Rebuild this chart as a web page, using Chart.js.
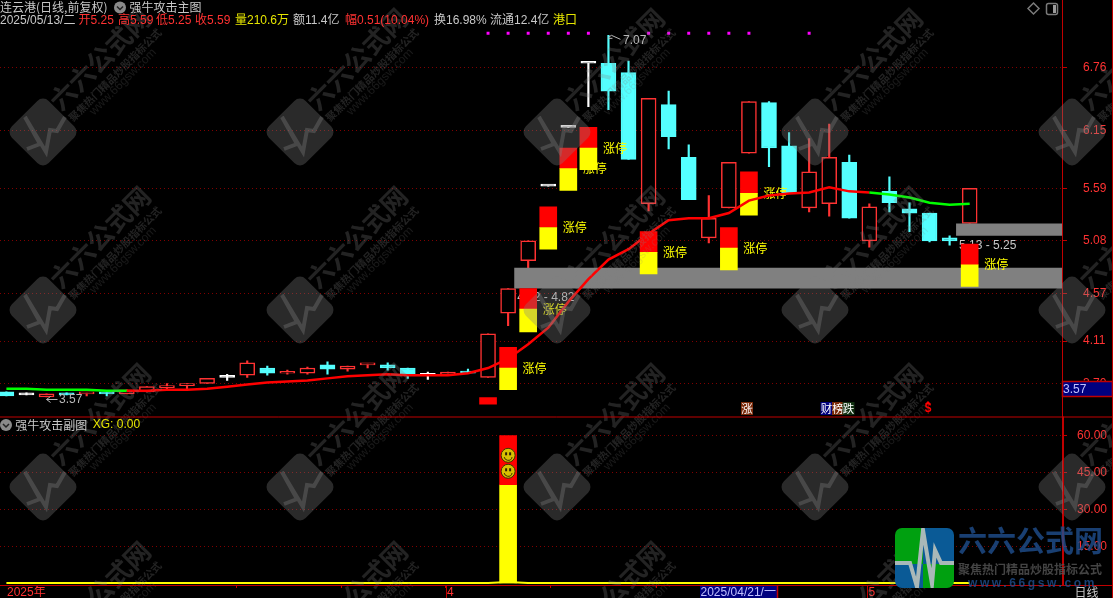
<!DOCTYPE html>
<html lang="zh">
<head>
<meta charset="UTF-8">
<title>强牛攻击主图</title>
<style>
html,body{margin:0;padding:0;background:#000;overflow:hidden}
canvas{display:block}
</style>
</head>
<body>
<canvas id="kline" width="1113" height="598"></canvas>
<script src="https://cdn.jsdelivr.net/npm/chart.js"></script>
<script>
// daily candles
const opens  = [3.62,3.59,3.57,3.61,3.60,3.61,3.60,3.62,3.66,3.68,3.70,3.76,3.78,3.85,3.80,3.80,3.88,3.84,3.88,3.88,3.85,3.78,3.79,3.82,3.76,4.38,4.89,5.61,6.18,6.80,6.80,6.71,5.44,6.40,5.89,5.11,5.40,5.93,6.42,6.00,5.40,5.44,5.84,5.08,5.56,5.39,5.35,5.11,5.25];
const closes = [3.58,3.59,3.60,3.59,3.61,3.60,3.64,3.67,3.68,3.70,3.75,3.76,3.90,3.80,3.81,3.85,3.84,3.87,3.89,3.85,3.79,3.78,3.81,3.80,4.18,4.62,5.08,5.61,6.18,6.80,6.53,5.87,6.46,6.09,5.48,5.30,5.84,6.43,5.98,5.54,5.75,5.89,5.30,5.41,5.45,5.35,5.08,5.08,5.59];
const highs  = [3.62,3.61,3.60,3.61,3.61,3.61,3.64,3.67,3.70,3.70,3.75,3.79,3.92,3.87,3.83,3.86,3.91,3.87,3.89,3.90,3.85,3.81,3.81,3.84,4.18,4.62,5.08,5.61,6.18,6.80,7.07,6.82,6.46,6.53,6.01,5.52,5.84,6.43,6.43,6.13,6.07,6.21,5.91,5.44,5.70,5.45,5.35,5.13,5.59];
const lows   = [3.58,3.59,3.57,3.59,3.58,3.58,3.60,3.62,3.65,3.65,3.70,3.73,3.76,3.78,3.79,3.79,3.79,3.82,3.85,3.83,3.75,3.74,3.79,3.80,3.76,4.26,4.82,5.61,6.18,6.38,6.35,5.87,5.37,5.97,5.48,5.06,5.40,5.93,5.80,5.54,5.36,5.32,5.30,5.02,5.36,5.17,5.07,5.04,5.25];
const maLine = [3.65,3.65,3.64,3.64,3.64,3.63,3.63,3.63,3.64,3.64,3.65,3.67,3.69,3.71,3.72,3.73,3.75,3.77,3.78,3.79,3.78,3.78,3.78,3.80,3.85,3.94,4.08,4.24,4.49,4.71,4.90,5.00,5.15,5.28,5.30,5.30,5.35,5.47,5.52,5.54,5.55,5.60,5.56,5.55,5.53,5.50,5.45,5.43,5.44];
const maGreenFrom = [0,1,2,3,4,5,43,44,45,46,47];

// 涨停 boxes: candle index, top of red, red/yellow split, bottom of yellow
const limitIdx    = [25,26,27,28,29,32,36,37,48];
const limitTop    = [4.05,4.62,5.41,5.98,6.18,5.17,5.21,5.75,5.05];
const limitSplit  = [3.85,4.42,5.21,5.78,5.98,4.97,5.01,5.54,4.85];
const limitBottom = [3.64,4.20,5.00,5.57,5.77,4.76,4.80,5.33,4.64];
const redMarkIdx = [24];
const redMarkRange = [[3.50,3.565]];

const dotIdx = [24,25,26,27,28,29,32,33,34,35,36,37,40];
const dotPrice = 7.09;

// grey support bands
const zoneStarts = [25.3,47.32];
const zoneTops = [4.82,5.25];
const zoneBottoms = [4.62,5.13];
const zoneLabels = ['4.62 - 4.82','5.13 - 5.25'];

// lower pane
const subIdx = [25];
const subYellow = [40];
const subRed = [60];
const smileys = [52,45.5];
const xgLine = [0,0,0,0,0,0,0,0,0,0,0,0,0,0,0,0,0,0,0,0,0,0,0,0,0,0.4,0,0,0,0,0,0,0,0,0,0,0,0,0,0,0,0,0,0,0,0,0,0,0];

// axes
const priceTicks = [6.76,6.15,5.59,5.08,4.57,4.11,3.70];
const subTicks = [60,45,30,15];
const xTickPos = [0.77,11.47,16.7,21.9,27.1,32.4,37.6,42.9];
const xTickLabels = ['2025年','','','4','','','','5'];

// header
const headerTexts = ['2025/05/13/二','开5.25','高5.59','低5.25','收5.59','量210.6万','额11.4亿','幅0.51(10.04%)','换16.98%','流通12.4亿','港口'];
const headerX = [0,78.5,118,156,195,235,293,345,434,490,553];
const headerColors = ['#c8c8c8','#ff3232','#ff3232','#ff3232','#ff3232','#e6e600','#c8c8c8','#ff3232','#c8c8c8','#c8c8c8','#e6e600'];

// event tags above the lower pane
const tagTexts = ['涨','财','榜','跌'];
const tagX = [747,826.5,838,848.5];
const tagBg = ['#7a2a0a','#00007f','#7a2a0a','#103010'];

const RED = '#ff3232', CYAN = '#54ffff', AXIS = '#c00000', GRID = '#800000';
const LATIN = '"Liberation Sans","Noto Sans CJK SC",sans-serif';
const CJK = '"Noto Sans CJK SC","Liberation Sans",sans-serif';

function candleColor(i) {
  if (closes[i] > opens[i]) return RED;
  if (closes[i] < opens[i]) return CYAN;
  return '#ffffff';
}

function put(ctx, text, x, y, color, font, align) {
  ctx.fillStyle = color;
  ctx.font = font;
  ctx.textAlign = align || 'left';
  ctx.textBaseline = 'middle';
  ctx.fillText(text, x, y);
}

function chevronIcon(ctx, x, y) {
  ctx.fillStyle = '#8a8a8a';
  ctx.beginPath();
  ctx.arc(x, y, 6, 0, Math.PI * 2);
  ctx.fill();
  ctx.strokeStyle = '#222';
  ctx.lineWidth = 1.5;
  ctx.beginPath();
  ctx.moveTo(x - 3, y - 1);
  ctx.lineTo(x, y + 2);
  ctx.lineTo(x + 3, y - 1);
  ctx.stroke();
}

// tiled site watermark, painted over everything
function drawWatermark(ctx) {
  const cols = [43,300,557,815,1072];
  const rows = [-46,132,310,487,665];
  const ekg = [[-16,17],[-3,12],[-18,-15],[3,20],[7,-2],[14,-1],[22,-15]];
  rows.forEach(function (wy) {
    cols.forEach(function (wx) {
      ctx.save();
      ctx.translate(wx, wy);
      ctx.save();
      ctx.rotate(Math.PI / 4);
      ctx.fillStyle = 'rgba(128,128,128,0.33)';
      ctx.beginPath();
      ctx.roundRect(-26, -26, 52, 52, 8);
      ctx.fill();
      ctx.restore();
      ctx.strokeStyle = 'rgba(128,128,128,0.35)';
      ctx.lineWidth = 4;
      ctx.beginPath();
      ekg.forEach(function (p, n) { n ? ctx.lineTo(p[0], p[1]) : ctx.moveTo(p[0], p[1]); });
      ctx.stroke();
      ctx.restore();

      const wm = [
        ['六六公式网', 57, -73, 'bold 26px ' + CJK, 0.27],
        ['聚焦热门精品炒股指标公式', 72, -57, 'bold 10.5px ' + CJK, 0.27],
        ['www.66gsw.com', 80, -50, '12px ' + LATIN, 0.2]
      ];
      wm.forEach(function (w) {
        ctx.save();
        ctx.translate(wx + w[1], wy + w[2]);
        ctx.rotate(-Math.PI / 4);
        put(ctx, w[0], 0, 0, 'rgba(128,128,128,' + w[4] + ')', w[3], 'center');
        ctx.restore();
      });
    });
  });
}

function drawLogo(ctx) {
  ctx.save();
  ctx.beginPath();
  ctx.roundRect(895, 528, 59, 60, 7);
  ctx.clip();
  ctx.fillStyle = '#00a010'; ctx.fillRect(895, 528, 28, 36);
  ctx.fillStyle = '#0a5a96'; ctx.fillRect(895, 564, 28, 24);
  ctx.fillStyle = '#0a5a96'; ctx.fillRect(923, 528, 31, 36);
  ctx.fillStyle = '#00a010'; ctx.fillRect(923, 564, 31, 24);
  ctx.strokeStyle = '#a9b8b8';
  ctx.lineWidth = 4;
  ctx.beginPath();
  ctx.moveTo(895, 563);
  ctx.lineTo(910, 563);
  ctx.lineTo(917, 587);
  ctx.lineTo(923, 530);
  ctx.lineTo(932, 584);
  ctx.lineTo(935, 550);
  ctx.lineTo(941, 563);
  ctx.lineTo(955, 563);
  ctx.stroke();
  ctx.restore();

  ctx.save();
  ctx.globalAlpha = 0.8;
  put(ctx, '六六公式网', 958, 541, '#1f4f8f', 'bold 29px ' + CJK);
  put(ctx, '聚焦热门精品炒股指标公式', 958, 569, '#555555', 'bold 12px ' + CJK);
  ctx.letterSpacing = '2.6px';
  put(ctx, 'www.66gsw.com', 968, 584, '#1f4f8f', 'bold 12px ' + LATIN);
  ctx.letterSpacing = '0px';
  ctx.restore();
}

const paneText = {
  id: 'paneText',
  // 涨停 text and band labels sit over the candles but under the boxes
  beforeDatasetDraw(chart, args) {
    if (args.meta.label !== 'limitRed') return;
    const ctx = chart.ctx, x = chart.scales.x, y = chart.scales.y;
    ctx.save();
    zoneLabels.forEach(function (t, n) {
      put(ctx, t, x.getPixelForValue(zoneStarts[n]) + 3, y.getPixelForValue(zoneBottoms[n]) + 9.5, '#c8c8c8', '12px ' + LATIN);
    });
    limitIdx.forEach(function (i, n) {
      put(ctx, '涨停', x.getPixelForValue(i) + 14.5, y.getPixelForValue(limitSplit[n]), '#ffff00', '12px ' + CJK);
    });
    ctx.restore();
  },
  afterDraw(chart) {
    const ctx = chart.ctx, x = chart.scales.x, y = chart.scales.y, y2 = chart.scales.y2;
    const area = chart.chartArea;
    ctx.save();

    drawWatermark(ctx);

    // frame lines
    ctx.strokeStyle = AXIS;
    ctx.lineWidth = 1;
    const frame = [
      [0, y.bottom + 0.5, 1113, y.bottom + 0.5],
      [0, area.bottom + 0.5, 1113, area.bottom + 0.5],
      [area.right + 1.5, y2.top, area.right + 1.5, area.bottom],
      [1112.5, 0, 1112.5, 598]
    ];
    frame.forEach(function (l) {
      ctx.beginPath();
      ctx.moveTo(l[0], l[1]);
      ctx.lineTo(l[2], l[3]);
      ctx.stroke();
    });
    // month ticks run down to the window edge
    [21.9, 42.9].forEach(function (v) {
      const px = Math.round(x.getPixelForValue(v)) + 0.5;
      ctx.beginPath();
      ctx.moveTo(px, area.bottom);
      ctx.lineTo(px, 598);
      ctx.stroke();
    });

    // smileys on the lower bar
    smileys.forEach(function (v) {
      const sx = x.getPixelForValue(subIdx[0]), sy = y2.getPixelForValue(v);
      ctx.fillStyle = '#d8c000';
      ctx.strokeStyle = '#3a3000';
      ctx.lineWidth = 1;
      ctx.beginPath(); ctx.arc(sx, sy, 7, 0, Math.PI * 2); ctx.fill(); ctx.stroke();
      ctx.fillStyle = '#302000';
      ctx.fillRect(sx - 3, sy - 3, 2, 3);
      ctx.fillRect(sx + 1, sy - 3, 2, 3);
      ctx.beginPath(); ctx.arc(sx, sy + 1, 4, 0.2, Math.PI - 0.2); ctx.stroke();
    });

    // flag at the high and arrow at the low
    const hx = x.getPixelForValue(30), hy = y.getPixelForValue(highs[30]);
    ctx.strokeStyle = '#b8b8b8';
    ctx.beginPath();
    ctx.moveTo(hx, hy + 2);
    ctx.lineTo(hx + 3, hy);
    ctx.lineTo(hx + 12, hy + 4);
    ctx.moveTo(hx, hy + 3);
    ctx.lineTo(hx + 4, hy + 3);
    ctx.stroke();
    put(ctx, '7.07', hx + 14.5, hy + 5.5, '#b8b8b8', '12px ' + LATIN);
    const lx = x.getPixelForValue(2), ly = y.getPixelForValue(lows[2]) + 2.5;
    ctx.beginPath();
    ctx.moveTo(lx + 4, ly - 3);
    ctx.lineTo(lx, ly);
    ctx.lineTo(lx + 4, ly + 3);
    ctx.moveTo(lx, ly);
    ctx.lineTo(lx + 11, ly);
    ctx.stroke();
    put(ctx, '3.57', lx + 12.5, ly, '#b8b8b8', '12px ' + LATIN);

    // event tags
    tagTexts.forEach(function (t, n) {
      ctx.fillStyle = tagBg[n];
      ctx.fillRect(tagX[n] - 6, 402, 12, 13);
      put(ctx, t, tagX[n], 408.5, '#ffffff', '11.5px ' + CJK, 'center');
    });
    put(ctx, '$', 928, 409, '#ff0000', 'bold 12px ' + LATIN, 'center');
    ctx.fillStyle = '#ff0000';
    ctx.beginPath();
    ctx.moveTo(928, 401);
    ctx.lineTo(931, 404);
    ctx.lineTo(925, 404);
    ctx.fill();

    // header rows
    put(ctx, '连云港(日线,前复权)', 0, 7, '#c8c8c8', '12px ' + CJK);
    chevronIcon(ctx, 120, 7.5);
    put(ctx, '强牛攻击主图', 129.5, 7, '#c8c8c8', '12px ' + CJK);
    headerTexts.forEach(function (t, n) {
      put(ctx, t, headerX[n], 21, headerColors[n], '12px ' + LATIN);
    });
    chevronIcon(ctx, 6, 425);
    put(ctx, '强牛攻击副图', 15.3, 425, '#c8c8c8', '12px ' + CJK);
    put(ctx, 'XG: 0.00', 92.7, 425, '#e6e600', '12px ' + LATIN);

    // window buttons
    ctx.strokeStyle = '#7a7a7a';
    ctx.beginPath();
    ctx.moveTo(1033.5, 3);
    ctx.lineTo(1039, 8.5);
    ctx.lineTo(1033.5, 14);
    ctx.lineTo(1028, 8.5);
    ctx.closePath();
    ctx.stroke();
    ctx.beginPath();
    ctx.roundRect(1046.5, 3.5, 11, 11, 2);
    ctx.stroke();
    ctx.fillStyle = '#9a9a9a';
    ctx.fillRect(1053, 5, 3, 8);

    // crosshair price box
    ctx.fillStyle = '#00007f';
    ctx.fillRect(area.right, 382, 51, 15);
    ctx.strokeStyle = AXIS;
    ctx.strokeRect(area.right + 0.5, 381.5, 50, 15);
    put(ctx, '3.57', 1063, 389.5, '#c0c0ff', '12px ' + LATIN);

    // date box and period
    ctx.fillStyle = '#00007f';
    ctx.fillRect(700, 586, 77, 12);
    ctx.strokeRect(777.5, 585.5, 0, 13);
    put(ctx, '2025/04/21/一', 700.5, 592.5, '#c0c0ff', '12px ' + LATIN);
    put(ctx, '日线', 1074.5, 592, '#c8c8c8', '12px ' + CJK);

    drawLogo(ctx);
    ctx.restore();
  }
};

const xs = opens.map(function (_, i) { return i; });

function noPadding(s) {
  s.paddingTop = 0;
  s.paddingBottom = 0;
  s.paddingLeft = 0;
  s.paddingRight = 0;
}

new Chart(document.getElementById('kline').getContext('2d'), {
  type: 'bar',
  plugins: [paneText],
  data: {
    datasets: [
      // drawn from the highest order down
      { label: 'wick', order: 20, grouped: false, barThickness: 1.5, yAxisID: 'y',
        data: xs.map(function (i) { return { x: i, y: [lows[i], highs[i]] }; }),
        backgroundColor: xs.map(candleColor) },
      { label: 'body', order: 19, grouped: false, barThickness: 15, yAxisID: 'y', minBarLength: 2,
        borderWidth: 1.5, borderSkipped: false,
        data: xs.map(function (i) { return { x: i, y: [opens[i], closes[i]] }; }),
        backgroundColor: xs.map(function (i) { return closes[i] > opens[i] ? '#000000' : candleColor(i); }),
        borderColor: xs.map(candleColor) },
      { label: 'zoneTop1', type: 'line', order: 18, yAxisID: 'y', pointRadius: 0, borderWidth: 0, fill: '+1',
        backgroundColor: '#808080', data: [{ x: zoneStarts[0], y: zoneTops[0] }, { x: 60, y: zoneTops[0] }] },
      { label: 'zoneBottom1', type: 'line', order: 17, yAxisID: 'y', pointRadius: 0, borderWidth: 0,
        data: [{ x: zoneStarts[0], y: zoneBottoms[0] }, { x: 60, y: zoneBottoms[0] }] },
      { label: 'zoneTop2', type: 'line', order: 16, yAxisID: 'y', pointRadius: 0, borderWidth: 0, fill: '+1',
        backgroundColor: '#808080', data: [{ x: zoneStarts[1], y: zoneTops[1] }, { x: 60, y: zoneTops[1] }] },
      { label: 'zoneBottom2', type: 'line', order: 15, yAxisID: 'y', pointRadius: 0, borderWidth: 0,
        data: [{ x: zoneStarts[1], y: zoneBottoms[1] }, { x: 60, y: zoneBottoms[1] }] },
      { label: 'limitRed', order: 10, grouped: false, barThickness: 17, yAxisID: 'y', backgroundColor: '#ff0000',
        data: limitIdx.map(function (i, n) { return { x: i, y: [limitSplit[n], limitTop[n]] }; }) },
      { label: 'limitYellow', order: 9, grouped: false, barThickness: 17, yAxisID: 'y', backgroundColor: '#ffff00',
        data: limitIdx.map(function (i, n) { return { x: i, y: [limitBottom[n], limitSplit[n]] }; }) },
      { label: 'redMark', order: 8, grouped: false, barThickness: 17, yAxisID: 'y', backgroundColor: '#ff0000',
        data: redMarkIdx.map(function (i, n) { return { x: i, y: redMarkRange[n] }; }) },
      { label: 'dots', type: 'line', order: 7, yAxisID: 'y', showLine: false, pointStyle: 'rect', pointRadius: 2.1,
        pointBorderWidth: 0, pointBackgroundColor: '#ff00ff',
        data: dotIdx.map(function (i) { return { x: i, y: dotPrice }; }) },
      { label: 'ma', type: 'line', order: 1, yAxisID: 'y', pointRadius: 0, borderWidth: 2.5, tension: 0,
        borderColor: '#ff0000',
        segment: { borderColor: function (c) { return maGreenFrom.includes(c.p0DataIndex) ? '#00ff00' : '#ff0000'; } },
        data: xs.map(function (i) { return { x: i, y: maLine[i] }; }) },
      { label: 'subYellow', order: 6, grouped: false, barThickness: 17, yAxisID: 'y2', backgroundColor: '#ffff00',
        data: subIdx.map(function (i, n) { return { x: i, y: [0, subYellow[n]] }; }) },
      { label: 'subRed', order: 5, grouped: false, barThickness: 17, yAxisID: 'y2', backgroundColor: '#ff0000',
        data: subIdx.map(function (i, n) { return { x: i, y: [subYellow[n], subRed[n]] }; }) },
      { label: 'XG', type: 'line', order: 4, yAxisID: 'y2', pointRadius: 0, borderWidth: 2, tension: 0,
        borderColor: '#ffff00',
        data: xs.map(function (i) { return { x: i, y: xgLine[i] }; }) }
    ]
  },
  options: {
    responsive: false,
    animation: false,
    events: [],
    layout: { padding: 0, autoPadding: false },
    plugins: { legend: { display: false }, tooltip: { enabled: false } },
    scales: {
      x: {
        type: 'linear',
        offset: false,
        min: -0.319,
        max: 52.6,
        afterFit: function (s) { s.height = 13; noPadding(s); },
        afterBuildTicks: function (s) { s.ticks = xTickPos.map(function (v) { return { value: v }; }); },
        border: { color: AXIS },
        grid: { offset: false, drawOnChartArea: false, tickLength: 3,
          tickColor: function (c) { return c.index === 0 ? 'rgba(0,0,0,0)' : AXIS; } },
        ticks: {
          autoSkip: false, maxRotation: 0, padding: -3, labelOffset: 4.5, color: RED,
          font: { family: LATIN, size: 12 },
          callback: function (v) { return xTickLabels[xTickPos.indexOf(v)]; }
        }
      },
      y: {
        position: 'right',
        stack: 'panes',
        stackWeight: 416.5,
        weight: 0,
        min: 3.381,
        max: 7.412,
        afterFit: function (s) { s.width = 51; noPadding(s); },
        afterBuildTicks: function (s) { s.ticks = priceTicks.map(function (v) { return { value: v }; }); },
        border: { color: AXIS, dash: [1, 3] },
        grid: { color: GRID, tickColor: AXIS, tickLength: 5 },
        ticks: { autoSkip: false, padding: 16, color: RED, font: { family: LATIN, size: 12 },
          callback: function (v) { return v.toFixed(2); } }
      },
      y2: {
        position: 'right',
        stack: 'panes',
        stackWeight: 168.5,
        weight: 1,
        min: -0.8,
        max: 67.8,
        afterFit: function (s) { s.width = 51; noPadding(s); },
        afterBuildTicks: function (s) { s.ticks = subTicks.map(function (v) { return { value: v }; }); },
        border: { color: AXIS, dash: [1, 3] },
        grid: { color: GRID, tickColor: AXIS, tickLength: 5 },
        ticks: { autoSkip: false, padding: 10, color: RED, font: { family: LATIN, size: 12 },
          callback: function (v) { return v.toFixed(2); } }
      }
    }
  }
});
</script>
</body>
</html>
